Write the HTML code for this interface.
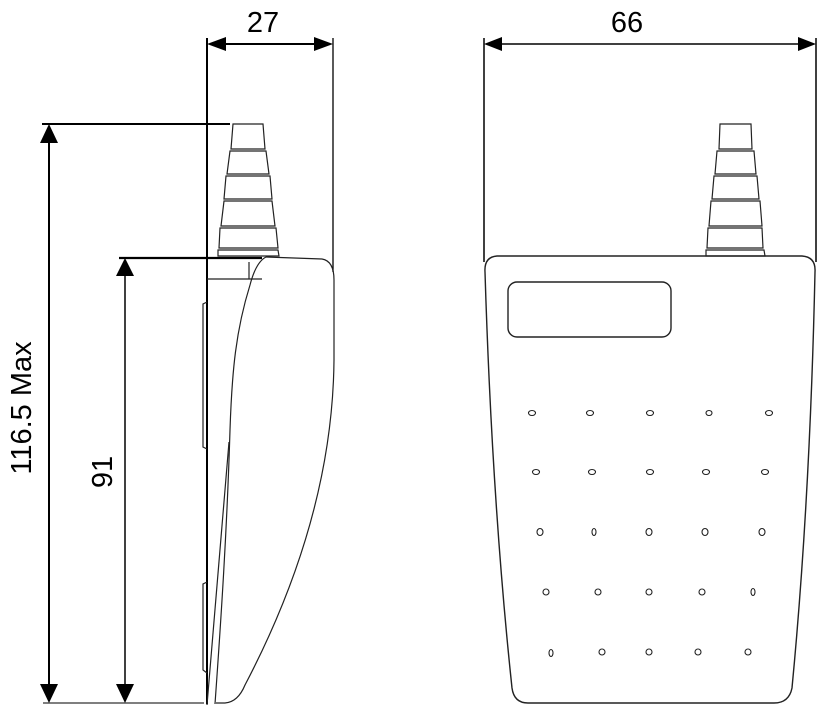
<!DOCTYPE html>
<html><head><meta charset="utf-8"><style>
html,body{margin:0;padding:0;background:#fff;}
svg{display:block;}
text{font-family:"Liberation Sans",Arial,sans-serif;font-size:29px;fill:#000;}
</style></head><body>
<svg width="827" height="714" viewBox="0 0 827 714" xmlns="http://www.w3.org/2000/svg">
<g fill="none" stroke="#000" stroke-width="1.3">
<line x1="207" y1="38" x2="207" y2="704" stroke-width="2"/>
<line x1="333" y1="38" x2="333" y2="272"/>
<line x1="222" y1="44" x2="318" y2="44" stroke-width="2"/>
<line x1="484" y1="38" x2="484" y2="262" stroke-width="1.5"/>
<line x1="816" y1="38" x2="816" y2="262" stroke-width="1.5"/>
<line x1="500" y1="44" x2="800" y2="44" stroke-width="1.5"/>
<line x1="42" y1="124" x2="230" y2="124" stroke-width="2"/>
<line x1="49" y1="140" x2="49" y2="690" stroke-width="2"/>
<line x1="43" y1="703" x2="204" y2="703" stroke="#555" stroke-width="1.5"/>
<line x1="119" y1="258" x2="262" y2="258" stroke-width="2.2"/>
<line x1="125" y1="274" x2="125" y2="690" stroke-width="1.5"/>
</g>
<g fill="#000">
<polygon points="207,44 226,37 226,51"/>
<polygon points="333,44 314,37 314,51"/>
<polygon points="484,44 502,37 502,51"/>
<polygon points="816,44 798,37 798,51"/>
<polygon points="49,124 40,143 58,143"/>
<polygon points="49,703 40,684 58,684"/>
<polygon points="125,258 116,276 134,276"/>
<polygon points="125,703 116,684 134,684"/>
</g>
<text x="263" y="32" text-anchor="middle">27</text>
<text x="627" y="32" text-anchor="middle">66</text>
<text transform="translate(31,408) rotate(-90)" text-anchor="middle">116.5 Max</text>
<text transform="translate(112,472) rotate(-90)" text-anchor="middle">91</text>

<g fill="none" stroke="#222" stroke-width="1.2">
<path d="M233,124 L263,124 L265,149 L231,149 Z"/>
<path d="M230,151 L266,151 L269,174 L227,174 Z"/>
<path d="M226,176 L270,176 L272,199 L224,199 Z"/>
<path d="M224,201 L272,201 L275,226 L221,226 Z"/>
<path d="M220,228 L276,228 L278,248 L219,248 Z"/>
<path d="M218,250 L278,250 L279,256 L218,256 Z"/>
<path d="M207,279 L249,279 L249,262 M249,279 L262,279"/>
<path d="M266,257 L322,259 Q334,261 334,280 L334,360 C333,470 300,580 245,685 Q238,702 225,703 L216,703"/>
<path d="M266,257 Q256,262 250,285 C236,330 232,370 230,430 C227,530 221,620 215,704"/>
<path d="M229,442 L207,705"/>
<path d="M207,302 L203,304 L203,447 L207,449"/>
<path d="M207,582 L203,584 L203,670 L207,673"/>
<path d="M720,124 L751,124 L752,149 L719,149 Z"/>
<path d="M717,151 L754,151 L756,174 L715,174 Z"/>
<path d="M714,176 L757,176 L759,199 L712,199 Z"/>
<path d="M711,201 L760,201 L762,226 L709,226 Z"/>
<path d="M708,228 L762,228 L763,248 L707,248 Z"/>
<path d="M706,250 L764,250 L765,256 L706,256 Z"/>
<path d="M497,256 L802,256 Q816,257 815,272 Q810,500 792,688 Q789,703 774,703 L528,703 Q514,703 512,688 Q492,500 485,272 Q484,257 497,256 Z" stroke-width="1.4"/>
<rect x="508" y="282" width="163" height="55" rx="9" stroke-width="1.4"/>
</g>
<g fill="none" stroke="#222" stroke-width="1.1">
<ellipse cx="532" cy="413" rx="3.5" ry="2.5"/><ellipse cx="590" cy="413" rx="3.5" ry="2.5"/><ellipse cx="650" cy="413" rx="3.5" ry="2.5"/><ellipse cx="709" cy="413" rx="3" ry="2.5"/><ellipse cx="769" cy="413" rx="3.5" ry="2.5"/>
<ellipse cx="536" cy="472" rx="3.5" ry="2.5"/><ellipse cx="592" cy="472" rx="3.5" ry="2.5"/><ellipse cx="650" cy="472" rx="3.5" ry="2.5"/><ellipse cx="706" cy="472" rx="3.5" ry="2.5"/><ellipse cx="765" cy="472" rx="3.5" ry="2.5"/>
<ellipse cx="540" cy="532" rx="3" ry="3.5"/><ellipse cx="594" cy="532" rx="2" ry="3.5"/><ellipse cx="649" cy="532" rx="3" ry="3.5"/><ellipse cx="705" cy="532" rx="3" ry="3.5"/><ellipse cx="762" cy="532" rx="3" ry="3.5"/>
<ellipse cx="546" cy="592" rx="3" ry="3"/><ellipse cx="598" cy="592" rx="3" ry="3"/><ellipse cx="649" cy="592" rx="3" ry="3"/><ellipse cx="702" cy="592" rx="3" ry="3"/><ellipse cx="753" cy="592" rx="2" ry="3.5"/>
<ellipse cx="551" cy="653" rx="2" ry="3.5"/><ellipse cx="602" cy="652" rx="3" ry="3"/><ellipse cx="649" cy="652" rx="3" ry="3"/><ellipse cx="698" cy="652" rx="3" ry="3"/><ellipse cx="748" cy="652" rx="3" ry="3"/>
</g>
</svg>
</body></html>
